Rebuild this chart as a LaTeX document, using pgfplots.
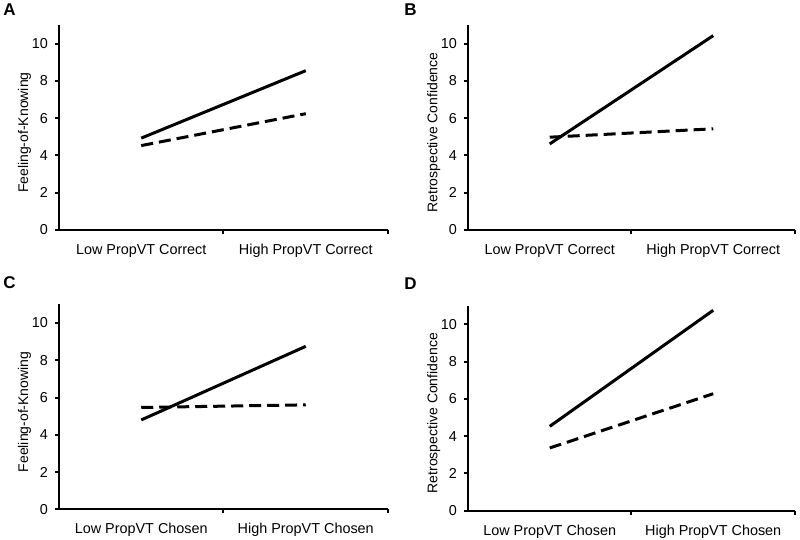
\documentclass[border=0pt]{standalone}
\usepackage{fontspec}
\setmainfont{Liberation Sans}
\usepackage{pgfplots}
\pgfplotsset{compat=1.18}

\pgfplotsset{
  panel/.style={
    scale only axis, height=102.5pt,
    axis x line*=bottom, axis y line*=left,
    axis line style={line width=1pt, black},
    xmin=0, xmax=2, ymin=0, ymax=11,
    ytick={0,2,4,6,8,10},
    xtick={1,2}, xticklabels={},
    major tick length=2pt,
    tick style={line width=1pt, black},
    tick align=outside,
    tick label style={font=\fontsize{7.2}{8}\selectfont},
    /pgf/number format/assume math mode=true,
    extra x ticks={0.5,1.5},
    extra x tick style={major tick length=0pt, tick label style={yshift=-3.5pt}},
    ylabel style={at={(axis description cs:-0.105,0.475)}, anchor=center,
      font=\fontsize{7}{8}\selectfont},
    clip=false,
  },
  solidln/.style={black, line width=1.5pt},
  dashln/.style={black, line width=1.5pt, dash pattern=on 6pt off 3pt},
}

\begin{document}
\begin{tikzpicture}
\useasboundingbox (0,0) rectangle (400pt,-270pt);

% A
\begin{axis}[panel, width=164.5pt, at={(29.5pt,-115pt)}, anchor=south west,
  ylabel={Feeling-of-Knowing},
  extra x tick labels={Low PropVT Correct, High PropVT Correct}]
\addplot[solidln] coordinates {(0.5,4.93) (1.5,8.55)};
\addplot[dashln] coordinates {(0.5,4.53) (1.5,6.24)};
\end{axis}

% B
\begin{axis}[panel, width=163.5pt, at={(234pt,-115pt)}, anchor=south west,
  ylabel={Retrospective Confidence},
  extra x tick labels={Low PropVT Correct, High PropVT Correct}]
\addplot[solidln] coordinates {(0.5,4.62) (1.5,10.43)};
\addplot[dashln] coordinates {(0.5,4.98) (1.5,5.43)};
\end{axis}

% C
\begin{axis}[panel, width=164.5pt, at={(29.5pt,-254.7pt)}, anchor=south west,
  ylabel={Feeling-of-Knowing},
  extra x tick labels={Low PropVT Chosen, High PropVT Chosen}]
\addplot[solidln] coordinates {(0.5,4.80) (1.5,8.75)};
\addplot[dashln] coordinates {(0.5,5.47) (1.5,5.61)};
\end{axis}

% D
\begin{axis}[panel, width=163.5pt, at={(234pt,-255.3pt)}, anchor=south west,
  ylabel={Retrospective Confidence},
  extra x tick labels={Low PropVT Chosen, High PropVT Chosen}]
\addplot[solidln] coordinates {(0.5,4.52) (1.5,10.75)};
\addplot[dashln] coordinates {(0.5,3.36) (1.5,6.27)};
\end{axis}

\node[anchor=north west, inner sep=0pt, font=\bfseries\fontsize{8.5}{9}\selectfont] at (1.5pt,-1.5pt) {A};
\node[anchor=north west, inner sep=0pt, font=\bfseries\fontsize{8.5}{9}\selectfont] at (202pt,-1.5pt) {B};
\node[anchor=north west, inner sep=0pt, font=\bfseries\fontsize{8.5}{9}\selectfont] at (1.5pt,-138pt) {C};
\node[anchor=north west, inner sep=0pt, font=\bfseries\fontsize{8.5}{9}\selectfont] at (202pt,-138.5pt) {D};
\end{tikzpicture}
\end{document}
